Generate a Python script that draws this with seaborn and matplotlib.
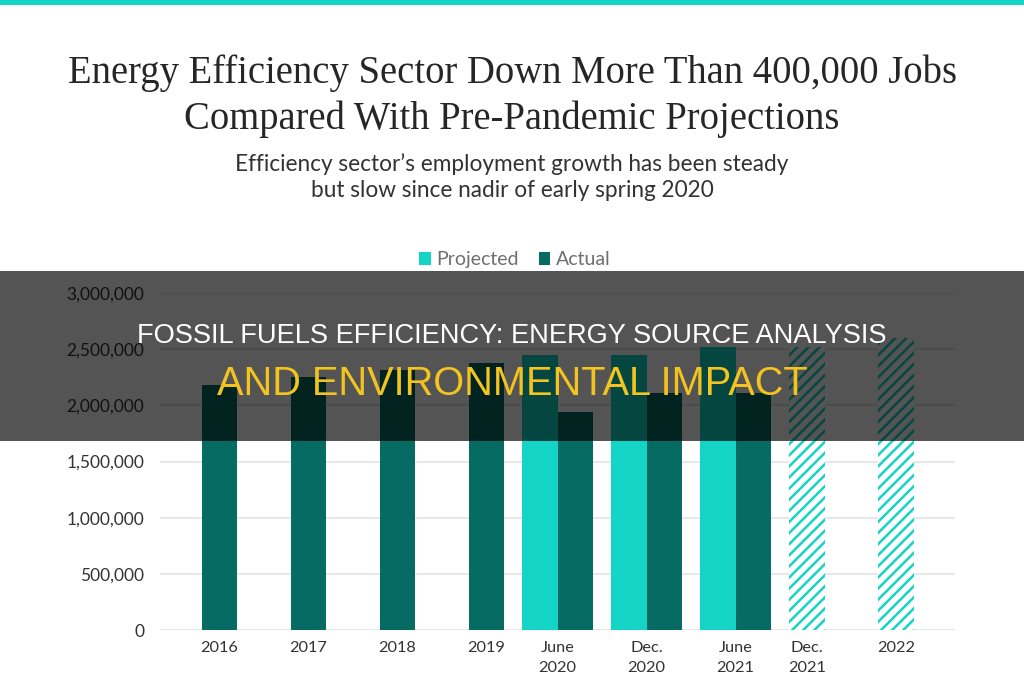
import matplotlib
matplotlib.use("Agg")
import matplotlib.pyplot as plt
from matplotlib.patches import Rectangle
from matplotlib.ticker import FuncFormatter
import seaborn as sns
import pandas as pd
import numpy as np

# data
periods = ["2016", "2017", "2018", "2019", "June\n2020", "Dec.\n2020",
           "June\n2021", "Dec.\n2021", "2022"]
projected = [None, None, None, None, 2448000, 2448000, 2519000, 2519000, 2597000]
actual = [2181000, 2252000, 2315000, 2377000, 1941000, 2110000, 2110000, None, None]
hatched_periods = ["Dec.\n2021", "2022"]

PROJ = "#14d4c6"
ACT = "#066c63"

rows = []
for p, pr, ac in zip(periods, projected, actual):
    if pr is not None:
        rows.append({"period": p, "jobs": pr, "series": "Projected"})
    if ac is not None:
        rows.append({"period": p, "jobs": ac, "series": "Actual"})
df = pd.DataFrame(rows)

sns.set_theme(style="white")
plt.rcParams["font.family"] = ["Lato", "DejaVu Sans"]
plt.rcParams["hatch.linewidth"] = 1.8

fig = plt.figure(figsize=(10.24, 6.8), dpi=100)
ax = fig.add_axes([0.156, 0.0735, 0.777, 0.4955])

sns.barplot(data=df, x="period", y="jobs", hue="series", order=periods,
            hue_order=["Projected", "Actual"], palette=[PROJ, ACT],
            width=0.8, saturation=1, linewidth=0, ax=ax)

# hatch the forecast bars
hatch_idx = [periods.index(p) for p in hatched_periods]
for bar in ax.containers[0]:
    cx = bar.get_x() + bar.get_width() / 2
    if int(round(cx)) in hatch_idx:
        bar.set_facecolor("white")
        bar.set_edgecolor(PROJ)
        bar.set_linewidth(0)
        bar.set_hatch("///")

# centre tick labels under the bars that exist
centres = {}
for bar in ax.patches:
    if bar.get_height() > 0:
        cx = bar.get_x() + bar.get_width() / 2
        centres.setdefault(int(round(cx)), []).append(cx)
ticks = [np.mean(centres[i]) for i in range(len(periods))]
ax.set_xticks(ticks)
ax.set_xticklabels(periods, fontsize=11.8, color="#333333", linespacing=1.55)

ax.set_ylim(0, 3000000)
ax.set_xlim(-0.47, len(periods) - 0.53)
ax.set_yticks(np.arange(0, 3000001, 500000))
ax.yaxis.set_major_formatter(FuncFormatter(lambda v, _: f"{int(v):,}"))
ax.tick_params(axis="y", labelsize=12.5, labelcolor="#333333", length=0, pad=11)
ax.tick_params(axis="x", length=0, pad=8)
ax.yaxis.grid(True, color="#e3e3e3", linewidth=1.2)
ax.set_axisbelow(True)
ax.set_xlabel("")
ax.set_ylabel("")
sns.despine(ax=ax, left=True, bottom=True)

# legend
sns.move_legend(ax, "center", bbox_to_anchor=(0.503, 0.618),
                bbox_transform=fig.transFigure, ncol=2, frameon=False,
                title=None, fontsize=14, handlelength=0.6, handleheight=0.6,
                handletextpad=0.3, columnspacing=1.0)
for t in ax.get_legend().get_texts():
    t.set_color("#6f6f6f")

# titles
fig.text(0.5, 1 - 73 / 680, "Energy Efficiency Sector Down More Than 400,000 Jobs",
         ha="center", va="center", fontsize=27.8, color="#262626",
         family=["Liberation Serif", "DejaVu Serif"])
fig.text(0.5, 1 - 119 / 680, "Compared With Pre-Pandemic Projections",
         ha="center", va="center", fontsize=27.8, color="#262626",
         family=["Liberation Serif", "DejaVu Serif"])
fig.text(0.5, 1 - 177 / 680, "Efficiency sector\u2019s employment growth has been steady\n"
         "but slow since nadir of early spring 2020",
         ha="center", va="center", fontsize=16.3, color="#333333", linespacing=1.25)

# top accent strip
fig.patches.append(Rectangle((0, 0.993), 1, 0.007, transform=fig.transFigure,
                             facecolor=PROJ, edgecolor="none", zorder=5))

# dark overlay band with headline
fig.patches.append(Rectangle((0, 1 - 441 / 680), 1, 170 / 680,
                             transform=fig.transFigure, facecolor="black",
                             alpha=0.67, edgecolor="none", zorder=10))
fig.text(0.5, 1 - 336 / 680, "FOSSIL FUELS EFFICIENCY: ENERGY SOURCE ANALYSIS",
         ha="center", va="center", fontsize=19.6, color="white", zorder=11,
         family=["Liberation Sans", "DejaVu Sans"])
fig.text(0.5, 1 - 384 / 680, "AND ENVIRONMENTAL IMPACT",
         ha="center", va="center", fontsize=28.6, color="#f3c320", zorder=11,
         family=["Liberation Sans", "DejaVu Sans"])

fig.savefig("out.png", dpi=100)
